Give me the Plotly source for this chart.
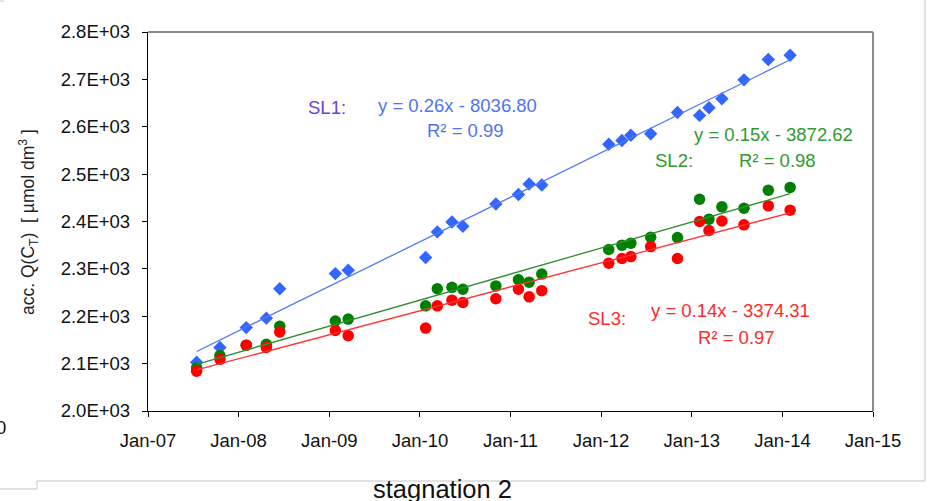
import numpy as np
import pandas as pd
import plotly.graph_objects as go

# ---------------- data ----------------
dates = ["2007-07-16", "2007-10-18", "2008-02-01", "2008-04-22", "2008-06-15",
         "2009-01-25", "2009-03-18", "2010-01-24", "2010-03-12", "2010-05-10",
         "2010-06-23", "2010-11-03", "2011-02-02", "2011-03-17", "2011-05-07",
         "2012-02-01", "2012-03-25", "2012-04-30", "2012-07-19", "2012-11-04",
         "2013-02-01", "2013-03-11", "2013-05-02", "2013-07-30", "2013-11-05",
         "2014-02-01"]
sl1 = [2103, 2134, 2176, 2196, 2258, 2290, 2297, 2324, 2378, 2399,
       2390, 2437, 2457, 2479, 2477, 2563, 2571, 2582, 2585, 2630,
       2624, 2640, 2659, 2699, 2742, 2751]
sl2 = [2091, 2117, 2139, 2141, 2179, 2190, 2194, 2222, 2258, 2261,
       2257, 2264, 2277, 2272, 2289, 2341, 2350, 2354, 2367, 2366,
       2447, 2405, 2431, 2428, 2466, 2472]
sl3 = [2084, 2109, 2139, 2134, 2167, 2170, 2159, 2175, 2222, 2234,
       2229, 2237, 2257, 2241, 2254, 2312, 2322, 2326, 2347, 2322,
       2400, 2381, 2401, 2393, 2433, 2424]

x_tick_vals = ["2007-01-01", "2008-01-01", "2009-01-01", "2010-01-01", "2011-01-01",
               "2012-01-01", "2013-01-01", "2014-01-01", "2015-01-01"]
x_tick_text = ["Jan-07", "Jan-08", "Jan-09", "Jan-10", "Jan-11",
               "Jan-12", "Jan-13", "Jan-14", "Jan-15"]
y_tick_vals = [2000, 2100, 2200, 2300, 2400, 2500, 2600, 2700, 2800]
y_tick_text = ["2.0E+03", "2.1E+03", "2.2E+03", "2.3E+03", "2.4E+03",
               "2.5E+03", "2.6E+03", "2.7E+03", "2.8E+03"]

series_names = ["SL1", "SL2", "SL3"]
equations = ["y = 0.26x - 8036.80", "y = 0.15x - 3872.62", "y = 0.14x - 3374.31"]
r2_texts = ["R² = 0.99", "R² = 0.98", "R² = 0.97"]

# ---------------- layout geometry ----------------
W, H = 932, 501
L, R, T, B = 148, 873, 32, 411  # plot area in pixels


def px(x):
    return (x - L) / (R - L)


def py(y):
    return (B - y) / (B - T)


FONT = "Arial, Liberation Sans, sans-serif"

dt = pd.to_datetime(dates)
days = (dt - pd.Timestamp("1900-01-01")).days.values.astype(float)

fig = go.Figure()

marker_cols = ["#3366ff", "#008000", "#ff0000"]
line_cols = ["#4d79f5", "#2f8f2f", "#ff3333"]
symbols = ["diamond", "circle", "circle"]
sizes = [10.3, 11.5, 11.5]

for vals, col, sym, sz, name in zip([sl1, sl2, sl3], marker_cols, symbols, sizes, series_names):
    fig.add_trace(go.Scatter(x=dt, y=vals, mode="markers", name=name,
                             marker=dict(symbol=sym, size=sz, color=col,
                                         line=dict(width=0)),
                             showlegend=False))

for vals, col in zip([sl1, sl2, sl3], line_cols):
    a, b = np.polyfit(days, np.array(vals, dtype=float), 1)
    ends = np.array([days.min(), days.max()])
    xe = [dt.min(), dt.max()]
    fig.add_trace(go.Scatter(x=xe, y=a * ends + b, mode="lines",
                             line=dict(color=col, width=1.3),
                             showlegend=False, hoverinfo="skip"))

ann = []
# SL1
ann.append(dict(text="SL1:", x=px(306), y=py(107), font=dict(color="#6a3fe0")))
ann.append(dict(text=equations[0], x=px(376), y=py(105), font=dict(color="#4f74ee")))
ann.append(dict(text=r2_texts[0], x=px(425), y=py(130), font=dict(color="#4f74ee")))
# SL2
ann.append(dict(text=equations[1], x=px(692), y=py(134), font=dict(color="#2e9a2e")))
ann.append(dict(text="SL2:", x=px(653), y=py(160), font=dict(color="#2e9a2e")))
ann.append(dict(text=r2_texts[1], x=px(737), y=py(160), font=dict(color="#2e9a2e")))
# SL3
ann.append(dict(text="SL3:", x=px(586), y=py(318), font=dict(color="#ff2a2a")))
ann.append(dict(text=equations[2], x=px(649), y=py(310), font=dict(color="#ff2a2a")))
ann.append(dict(text=r2_texts[2], x=px(696), y=py(337), font=dict(color="#ff2a2a")))

for a_ in ann:
    a_.update(xref="paper", yref="paper", xanchor="left", yanchor="middle",
              showarrow=False)
    a_["font"].update(size=18.5, family=FONT)
    fig.add_annotation(**a_)

# axis title (y)
fig.add_annotation(text="acc. Q(C<sub>T</sub>)  [ µmol dm<sup>3</sup> ]",
                   x=px(28), y=py(222), xref="paper", yref="paper",
                   xanchor="center", yanchor="middle", textangle=-90,
                   showarrow=False, font=dict(size=17.5, family=FONT, color="#222222"))
# bottom title
fig.add_annotation(text="stagnation 2", x=px(442), y=py(489), xref="paper", yref="paper",
                   xanchor="center", yanchor="middle", showarrow=False,
                   font=dict(size=25.5, family=FONT, color="#111111"))
# stray "0" at the left edge
fig.add_annotation(text="0", x=px(8), y=py(427), xref="paper", yref="paper",
                   xanchor="right", yanchor="middle", showarrow=False,
                   font=dict(size=18.5, family=FONT, color="#111111"))

shapes = []
# plot-area top & right border (grey)
shapes.append(dict(type="line", x0=px(L), x1=px(R), y0=py(T), y1=py(T),
                   line=dict(color="#8c8c8c", width=2)))
shapes.append(dict(type="line", x0=px(R), x1=px(R), y0=py(T), y1=py(B),
                   line=dict(color="#8c8c8c", width=2)))
# outer frame (light grey)
frame = dict(color="#c4c4c4", width=1)
shapes.append(dict(type="line", x0=px(925), x1=px(925), y0=py(0), y1=py(481), line=frame))
shapes.append(dict(type="line", x0=px(37), x1=px(925), y0=py(481), y1=py(481), line=frame))
shapes.append(dict(type="line", x0=px(37), x1=px(37), y0=py(481), y1=py(489), line=frame))
shapes.append(dict(type="line", x0=px(0), x1=px(37), y0=py(489), y1=py(489), line=frame))
shapes.append(dict(type="line", x0=px(0), x1=px(4), y0=py(1), y1=py(1), line=frame))
for s in shapes:
    s.update(xref="paper", yref="paper", layer="above")
    fig.add_shape(**s)

fig.update_layout(
    width=W, height=H,
    margin=dict(l=L, r=W - R, t=T, b=H - B, pad=0),
    paper_bgcolor="white", plot_bgcolor="white",
    font=dict(family=FONT, size=18.5, color="#111111"),
    showlegend=False,
)
fig.update_xaxes(range=["2007-01-01", "2015-01-01"], tickmode="array",
                 tickvals=x_tick_vals, ticktext=x_tick_text,
                 showgrid=False, zeroline=False, showline=True, linecolor="black",
                 linewidth=1.3, ticks="outside", ticklen=5, tickcolor="black",
                 tickfont=dict(size=18.5, family=FONT, color="#111111"),
                 ticklabelstandoff=8)
fig.update_yaxes(range=[2000, 2800], tickmode="array",
                 tickvals=y_tick_vals, ticktext=y_tick_text,
                 showgrid=False, zeroline=False, showline=True, linecolor="black",
                 linewidth=1.3, ticks="outside", ticklen=5, tickcolor="black",
                 tickfont=dict(size=18.5, family=FONT, color="#111111"),
                 ticklabelstandoff=8)

fig.write_html("out.html")
